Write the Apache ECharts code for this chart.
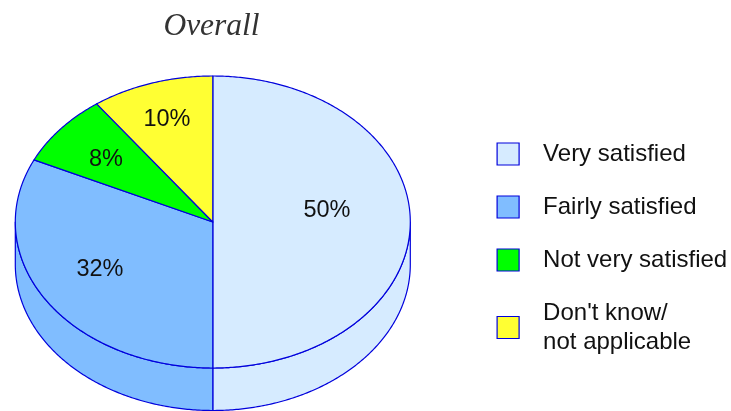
<!DOCTYPE html>
<html>
<head>
<meta charset="utf-8">
<style>html,body{margin:0;padding:0;background:#fff}#c{width:731px;height:411px}</style>
<script src="https://cdn.jsdelivr.net/npm/echarts@6/dist/echarts.min.js"></script>
</head>
<body>
<div id="c"></div>
<script>
const categories = ['Very satisfied', 'Fairly satisfied', 'Not very satisfied', "Don't know/\nnot applicable"];
const values = [50, 32, 8, 10];
const valueLabels = ['50%', '32%', '8%', '10%'];
const colors = ['#D6EBFF', '#80BDFF', '#00FF00', '#FFFF33'];
const labelCenters = [[327, 211], [100, 270], [106, 160], [167, 120]];

const STROKE = '#0000DC';
const CX = 212.8, CY = 222, RX = 197.5, RY = 146, DEPTH = 42.5;
const total = values.reduce((a, b) => a + b, 0);
const pt = (a, dy) => [CX + RX * Math.sin(a), CY + dy - RY * Math.cos(a)];
function arcPoints(a0, a1, dy) {
  const n = Math.max(2, Math.ceil(Math.abs(a1 - a0) / 0.01));
  const out = [];
  for (let i = 0; i <= n; i++) out.push(pt(a0 + (a1 - a0) * i / n, dy));
  return out;
}
function renderSlice(params, api) {
  const v = api.value(0), before = api.value(1);
  const a0 = before / total * 2 * Math.PI, a1 = (before + v) / total * 2 * Math.PI;
  const fill = colors[params.seriesIndex];
  const style = { fill, stroke: STROKE, lineWidth: 1.2, lineJoin: 'round' };
  const children = [];
  const w0 = Math.max(a0, Math.PI / 2), w1 = Math.min(a1, Math.PI * 1.5);
  if (w1 > w0) {
    children.push({
      type: 'polygon', z2: 1,
      shape: { points: arcPoints(w0, w1, 0).concat(arcPoints(w1, w0, DEPTH)) },
      style
    });
  }
  children.push({
    type: 'polygon', z2: 2,
    shape: { points: [[CX, CY]].concat(arcPoints(a0, a1, 0)) },
    style
  });
  const c = labelCenters[params.seriesIndex];
  children.push({
    type: 'text', z2: 3, x: c[0], y: c[1],
    style: {
      text: valueLabels[params.seriesIndex], fill: '#111',
      font: '23.5px "Liberation Sans", Arial, sans-serif',
      align: 'center', verticalAlign: 'middle'
    }
  });
  return { type: 'group', children };
}
let running = 0;
const series = categories.map((name, i) => {
  const before = running;
  running += values[i];
  return {
    type: 'custom', name, coordinateSystem: 'none', silent: true, animation: false,
    itemStyle: { color: colors[i], borderColor: STROKE },
    renderItem: renderSlice,
    data: [[values[i], before]]
  };
});
const chart = echarts.init(document.getElementById('c'), null, { renderer: 'canvas' });
chart.setOption({
  animation: false,
  backgroundColor: '#fff',
  title: {
    text: 'Overall', left: 206.5, top: 6, textAlign: 'center',
    textStyle: { fontFamily: '"Liberation Serif", serif', fontStyle: 'italic', fontWeight: 'normal', fontSize: 31.5, color: '#333' }
  },
  legend: {
    orient: 'vertical', left: 496.5, top: 138.5, padding: 0,
    itemWidth: 22, itemHeight: 22, itemGap: 22, selectedMode: false,
    icon: 'rect',
    textStyle: {
      fontFamily: '"Liberation Sans", Arial, sans-serif', fontSize: 24, lineHeight: 29,
      color: '#111', padding: [2, 0, 0, 19]
    },
    data: categories.map((name, i) => ({
      name, icon: 'rect',
      itemStyle: { color: colors[i], borderColor: STROKE, borderWidth: 1.2 }
    }))
  },
  series
});
</script>
</body>
</html>
